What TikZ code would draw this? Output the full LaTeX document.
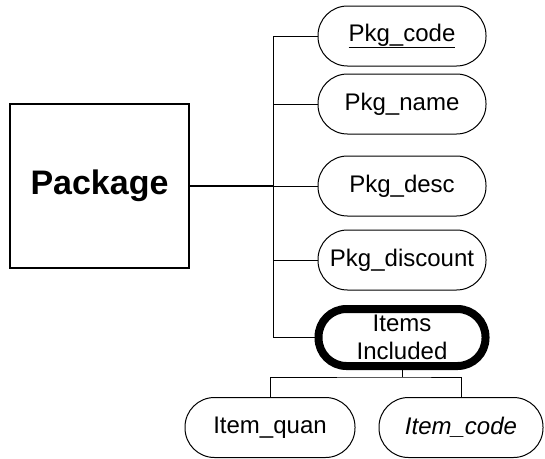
\documentclass[tikz,border=0pt]{standalone}
\usepackage{fontspec}
\setmainfont{Liberation Sans}
\usetikzlibrary{positioning}

\tikzset{
  entity/.style={draw, rectangle, line width=1.3pt, minimum width=179pt,
    minimum height=164pt, font=\fontsize{34}{38}\selectfont\bfseries},
  attr/.style={draw, rectangle, rounded corners=29.5pt, line width=1pt,
    minimum width=168pt, minimum height=60pt, font=\fontsize{24}{28}\selectfont},
  multiattr/.style={attr, line width=8pt, rounded corners=28pt,
    minimum width=167pt, minimum height=57pt, align=center},
  link/.style={line width=1pt}
}

\begin{document}
\begin{tikzpicture}[x=1pt,y=-1pt,every node/.style={inner sep=0,outer sep=0}]
      \useasboundingbox (0,0) rectangle (545,458);

      \node(pkg)[entity] at (99.5,186){Package};

      \node(code)[attr] at (402,36){\underline{Pkg\_code}};
      \node(name)[attr,below=8pt of code]{Pkg\_name};
      \node(desc)[attr,below=22pt of name]{Pkg\_desc};
      \node(disc)[attr,below=14pt of desc]{Pkg\_discount};
      \node(items)[multiattr,below=19pt of disc]{Items\\Included};

      \node(quan)[attr,minimum width=170pt] at (270,427.5){Item\_quan};
      \node(icode)[attr,minimum width=164pt] at (461,427.5){\textit{Item\_code}};

      \coordinate(trunk) at (273,36);
      \coordinate(fork) at ([yshift=-11pt]items.south);

      \draw[line width=2pt](pkg.east)--(pkg.east -| trunk);
      \draw[link](trunk |- code)--(trunk |- items);
      \foreach \a in {code,name,desc,disc,items}
        \draw[link](\a.west)--(\a.west -| trunk);

      \draw[link](items.south)--(fork);
      \draw[link](quan.north)|-(fork)-|(icode.north);
    \end{tikzpicture}
\end{document}
